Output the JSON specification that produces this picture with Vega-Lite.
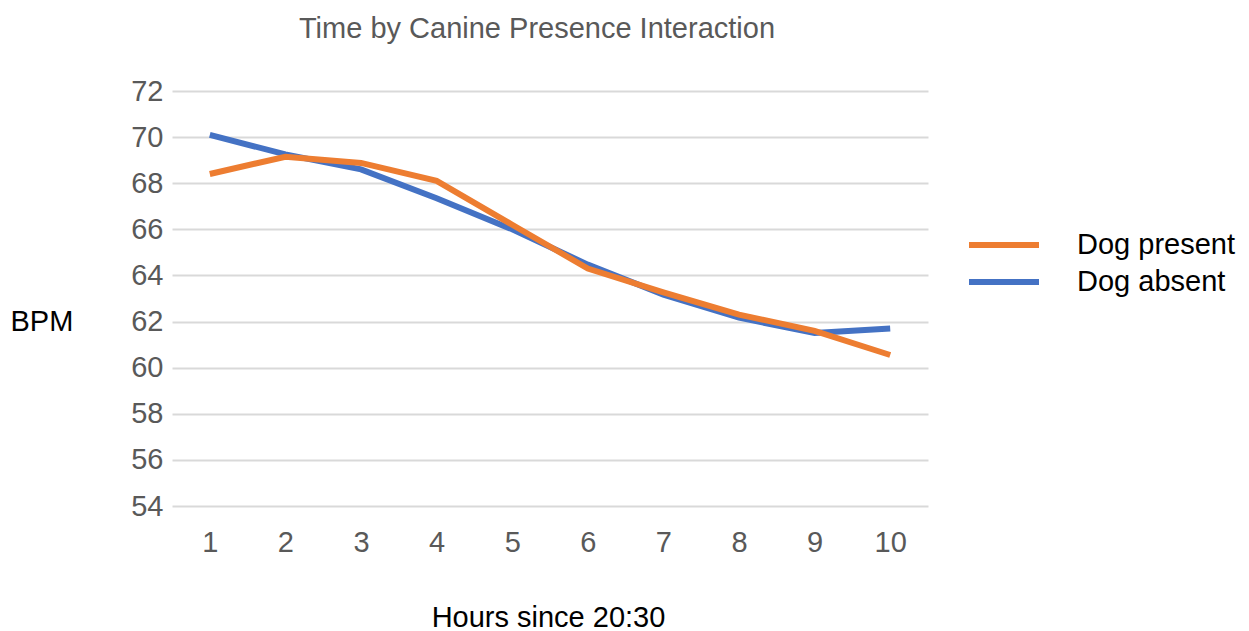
{
  "$schema": "https://vega.github.io/schema/vega-lite/v6.json",
  "width": 756,
  "height": 415,
  "autosize": {"type": "none"},
  "padding": {"left": 172, "top": 91, "right": 321, "bottom": 125},
  "background": "white",
  "view": {"stroke": null},
  "title": {
    "text": "Time by Canine Presence Interaction",
    "font": "Liberation Sans",
    "fontSize": 29,
    "fontWeight": "normal",
    "color": "#595959",
    "anchor": "middle",
    "baseline": "alphabetic",
    "offset": 10,
    "dx": -13
  },
  "data": {
    "values": [
      {"hour": 1, "series": "Dog absent", "bpm": 70.1},
      {"hour": 2, "series": "Dog absent", "bpm": 69.25},
      {"hour": 3, "series": "Dog absent", "bpm": 68.6},
      {"hour": 4, "series": "Dog absent", "bpm": 67.35},
      {"hour": 5, "series": "Dog absent", "bpm": 66.0},
      {"hour": 6, "series": "Dog absent", "bpm": 64.47},
      {"hour": 7, "series": "Dog absent", "bpm": 63.17},
      {"hour": 8, "series": "Dog absent", "bpm": 62.17},
      {"hour": 9, "series": "Dog absent", "bpm": 61.5},
      {"hour": 10, "series": "Dog absent", "bpm": 61.7},
      {"hour": 1, "series": "Dog present", "bpm": 68.4},
      {"hour": 2, "series": "Dog present", "bpm": 69.15},
      {"hour": 3, "series": "Dog present", "bpm": 68.88},
      {"hour": 4, "series": "Dog present", "bpm": 68.1},
      {"hour": 5, "series": "Dog present", "bpm": 66.2},
      {"hour": 6, "series": "Dog present", "bpm": 64.3},
      {"hour": 7, "series": "Dog present", "bpm": 63.27},
      {"hour": 8, "series": "Dog present", "bpm": 62.3},
      {"hour": 9, "series": "Dog present", "bpm": 61.6},
      {"hour": 10, "series": "Dog present", "bpm": 60.55}
    ]
  },
  "mark": {"type": "line", "strokeWidth": 6, "strokeCap": "butt", "strokeJoin": "miter"},
  "encoding": {
    "x": {
      "field": "hour",
      "type": "ordinal",
      "scale": {"type": "point", "padding": 0.5},
      "axis": {
        "title": "Hours since 20:30",
        "labelAngle": 0,
        "labelFont": "Liberation Sans",
        "labelFontSize": 29,
        "labelColor": "#595959",
        "labelPadding": 22,
        "ticks": false,
        "domain": false,
        "grid": false,
        "titleFont": "Liberation Sans",
        "titleFontSize": 29,
        "titleFontWeight": "normal",
        "titleColor": "#000000",
        "titlePadding": 46,
        "titleX": 376
      }
    },
    "y": {
      "field": "bpm",
      "type": "quantitative",
      "scale": {"domain": [54, 72], "nice": false, "zero": false},
      "axis": {
        "title": "BPM",
        "values": [54, 56, 58, 60, 62, 64, 66, 68, 70, 72],
        "labelFont": "Liberation Sans",
        "labelFontSize": 29,
        "labelColor": "#595959",
        "labelPadding": 9,
        "ticks": false,
        "domain": false,
        "grid": true,
        "gridColor": "#d9d9d9",
        "gridWidth": 2,
        "titleFont": "Liberation Sans",
        "titleFontSize": 29,
        "titleFontWeight": "normal",
        "titleColor": "#000000",
        "titleAngle": 0,
        "titleAlign": "left",
        "titleBaseline": "middle",
        "titleX": -162,
        "titleY": 230
      }
    },
    "color": {
      "field": "series",
      "type": "nominal",
      "scale": {"domain": ["Dog present", "Dog absent"], "range": ["#ED7D31", "#4472C4"]},
      "legend": {
        "title": null,
        "orient": "none",
        "legendX": 794,
        "legendY": 138,
        "symbolType": "stroke",
        "symbolSize": 900,
        "symbolStrokeWidth": 6,
        "clipHeight": 32,
        "labelFont": "Liberation Sans",
        "labelFontSize": 29,
        "labelColor": "#000000",
        "labelOffset": 35,
        "rowPadding": 5,
        "encode": {
          "symbols": {
            "enter": {
              "size": {"value": 4900},
              "stroke": {"signal": "datum.value === 'Dog present' ? '#C55A11' : '#4472C4'"}
            },
            "update": {
              "size": {"value": 4900},
              "stroke": {"signal": "datum.value === 'Dog present' ? '#C55A11' : '#4472C4'"}
            }
          }
        }
      }
    }
  }
}
